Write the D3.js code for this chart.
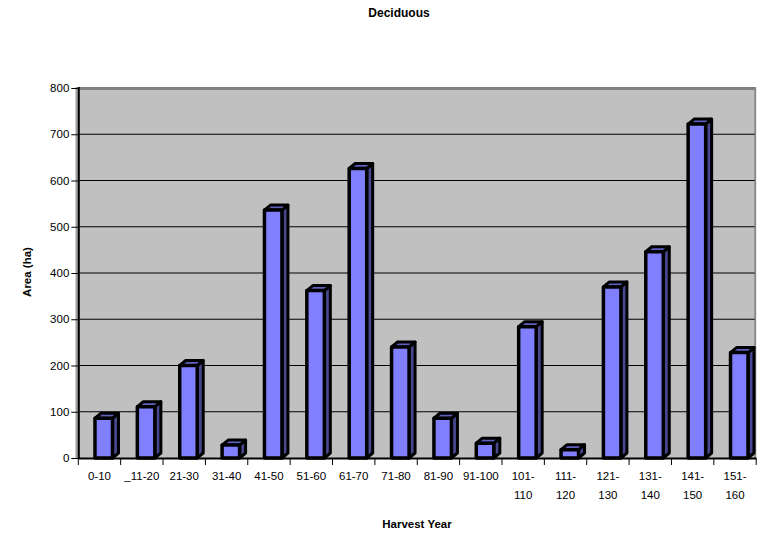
<!DOCTYPE html>
<html>
<head>
<meta charset="utf-8">
<script src="https://cdn.jsdelivr.net/npm/d3@7/dist/d3.min.js"></script>
<style>
  html, body { margin: 0; padding: 0; background: #fff; }
  svg { display: block; font-family: "Liberation Sans", Arial, sans-serif; }
</style>
</head>
<body>
<svg id="chart" width="761" height="535"></svg>
<script>
// Harvest-year classes and deciduous area (ha) in each
const categories = ["0-10", "_11-20", "21-30", "31-40", "41-50", "51-60", "61-70", "71-80",
                    "81-90", "91-100", "101-110", "111-120", "121-130", "131-140", "141-150", "151-160"];
const areaValues = [86, 111, 200, 28, 536, 362, 626, 240, 86, 32, 284, 18, 370, 446, 722, 228];
const yTicks = [0, 100, 200, 300, 400, 500, 600, 700, 800];

const chartTitle = "Deciduous";
const xTitle = "Harvest Year";
const yTitle = "Area (ha)";

const svg = d3.select("#chart");

const plot = { left: 78.3, right: 756.2, top: 88, bottom: 458 };

const x = d3.scaleBand().domain(categories).range([plot.left, plot.right]);
const y = d3.scaleLinear().domain([0, 800]).range([plot.bottom, plot.top]);

// back wall
svg.append("rect")
  .attr("x", plot.left).attr("y", plot.top)
  .attr("width", plot.right - plot.left - 1).attr("height", plot.bottom - plot.top)
  .attr("fill", "#c0c0c0");

// top and right edges of the wall
svg.append("line")
  .attr("x1", plot.left).attr("x2", plot.right - 0.5)
  .attr("y1", plot.top + 0.5).attr("y2", plot.top + 0.5)
  .attr("stroke", "#808080").attr("stroke-width", 3);
svg.append("line")
  .attr("x1", plot.right - 1).attr("x2", plot.right - 1)
  .attr("y1", plot.top - 1).attr("y2", plot.bottom)
  .attr("stroke", "#8a8a8a").attr("stroke-width", 2);

// side wall strip on the left
svg.append("rect")
  .attr("x", 75.5).attr("y", plot.top - 1)
  .attr("width", 2.5).attr("height", plot.bottom - plot.top + 1)
  .attr("fill", "#a0a0a0");

// gridlines
svg.append("g").selectAll("line")
  .data(yTicks.filter(d => d > 0 && d < 800))
  .join("line")
  .attr("x1", plot.left).attr("x2", plot.right - 1.5)
  .attr("y1", d => y(d)).attr("y2", d => y(d))
  .attr("stroke", "#000").attr("stroke-width", 1);

// value axis
const yAxis = d3.axisLeft(y).tickValues(yTicks).tickSize(7).tickPadding(2);
const gy = svg.append("g").attr("transform", `translate(${plot.left},0)`).call(yAxis);
gy.select(".domain").remove();
gy.selectAll(".tick line").attr("stroke", "#000");
gy.selectAll(".tick text")
  .attr("font-size", "11.5px").attr("fill", "#000")
  .style("font-family", "'Liberation Sans', Arial, sans-serif");
svg.append("line")
  .attr("x1", plot.left + 0.5).attr("x2", plot.left + 0.5)
  .attr("y1", plot.top - 1).attr("y2", plot.bottom + 1)
  .attr("stroke", "#000").attr("stroke-width", 2);

// 3-D columns: front face, right side and top
const depthX = 6, depthY = 5;
const frontL = 4.5, frontR = 13;
const bars = svg.append("g").selectAll("g")
  .data(categories.map((c, i) => ({ c, v: areaValues[i] })))
  .join("g");

bars.each(function (d) {
  const g = d3.select(this);
  const cx = x(d.c) + x.bandwidth() / 2;
  const x0 = cx - frontL, x1 = cx + frontR;
  const yt = y(d.v), yb = y(0);
  // right side
  g.append("polygon")
    .attr("points", [[x1, yb], [x1, yt], [x1 + depthX, yt - depthY], [x1 + depthX, yb - depthY]].join(" "))
    .attr("fill", "#48488f").attr("stroke", "#000").attr("stroke-width", 3)
    .attr("stroke-linejoin", "round");
  // top
  g.append("polygon")
    .attr("points", [[x0, yt], [x0 + depthX, yt - depthY], [x1 + depthX, yt - depthY], [x1, yt]].join(" "))
    .attr("fill", "#6060c0").attr("stroke", "#000").attr("stroke-width", 3)
    .attr("stroke-linejoin", "round");
  // front
  g.append("rect")
    .attr("x", x0).attr("y", yt)
    .attr("width", x1 - x0).attr("height", yb - yt)
    .attr("fill", "#8080ff").attr("stroke", "#000").attr("stroke-width", 3.5)
    .attr("stroke-linejoin", "round");
});

// category axis
svg.append("line")
  .attr("x1", plot.left).attr("x2", plot.right + 0.5)
  .attr("y1", plot.bottom + 0.5).attr("y2", plot.bottom + 0.5)
  .attr("stroke", "#000").attr("stroke-width", 2);

const tickXs = categories.map(c => x(c)).concat([x.range()[1]]);
svg.append("g").selectAll("line")
  .data(tickXs)
  .join("line")
  .attr("x1", d => d).attr("x2", d => d)
  .attr("y1", plot.bottom + 1).attr("y2", plot.bottom + 7)
  .attr("stroke", "#000").attr("stroke-width", 1);

// category labels, wrapped after the hyphen when they are too wide
svg.append("g").selectAll("text")
  .data(categories)
  .join("text")
  .attr("text-anchor", "middle")
  .attr("font-size", "11.5px")
  .attr("fill", "#000")
  .each(function (c) {
    const t = d3.select(this);
    const cx = x(c) + x.bandwidth() / 2;
    const parts = c.length > 6 ? [c.slice(0, c.indexOf("-") + 1), c.slice(c.indexOf("-") + 1)] : [c];
    parts.forEach((p, i) => {
      t.append("tspan").attr("x", cx).attr("y", 480 + i * 19).text(p);
    });
  });

// titles
svg.append("text")
  .attr("x", 399).attr("y", 17)
  .attr("text-anchor", "middle")
  .attr("font-size", "12px").attr("font-weight", "bold")
  .text(chartTitle);

svg.append("text")
  .attr("x", 417).attr("y", 528)
  .attr("text-anchor", "middle")
  .attr("font-size", "11.5px").attr("font-weight", "bold")
  .text(xTitle);

svg.append("text")
  .attr("transform", "translate(31,272) rotate(-90)")
  .attr("text-anchor", "middle")
  .attr("font-size", "11.5px").attr("font-weight", "bold")
  .text(yTitle);
</script>
</body>
</html>
